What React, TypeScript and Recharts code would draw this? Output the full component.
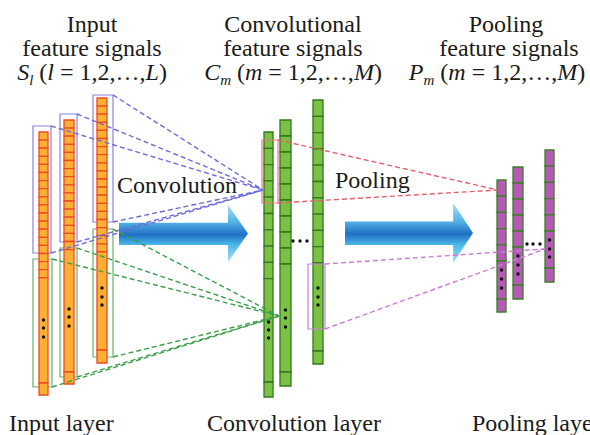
import React from "react";
import { ScatterChart, XAxis, YAxis, Scatter, ReferenceArea, ReferenceLine } from "recharts";

const W = 590;
const H = 435;
const SERIF = "Liberation Serif, Tinos, DejaVu Serif, Noto Serif, serif";

// feature columns, in diagram units (same as px): edges, top, cell height,
// number of small cells, end of the long cell, bottom, rows of the vertical dots
const inputColumns = [
  { x1: 39, x2: 48, top: 132, cell: 8.1, cells: 18, gapEnd: 383, bottom: 395, dots: [320, 328, 337] },
  { x1: 64, x2: 74, top: 120, cell: 8.1, cells: 16, gapEnd: 372, bottom: 384, dots: [309, 317, 326] },
  { x1: 97, x2: 107, top: 98, cell: 8.1, cells: 19, gapEnd: 350, bottom: 363, dots: [288, 297, 305] },
];
const convColumns = [
  { x1: 264, x2: 273, top: 132, cell: 16.3, cells: 9, gapEnd: 382, bottom: 397, dots: [322, 330, 338] },
  { x1: 280, x2: 291, top: 120, cell: 16, cells: 9, gapEnd: 372, bottom: 386, dots: [310, 318, 327] },
  { x1: 313, x2: 323, top: 100, cell: 16.3, cells: 10, gapEnd: 351, bottom: 364, dots: [288, 297, 305] },
];
const poolColumns = [
  { x1: 497, x2: 506, top: 180, cell: 16.2, cells: 5, gapEnd: 299, bottom: 312, dots: [270, 279, 288] },
  { x1: 513, x2: 523, top: 167, cell: 16, cells: 5, gapEnd: 285, bottom: 299, dots: [256, 265, 274] },
  { x1: 545, x2: 554, top: 150, cell: 16.2, cells: 5, gapEnd: 268, bottom: 282, dots: [240, 249, 257] },
];

// receptive field boxes
const blueBoxes = [
  { x1: 33, x2: 51, y1: 126, y2: 253 },
  { x1: 60, x2: 77, y1: 114, y2: 242 },
  { x1: 93, x2: 113, y1: 95, y2: 222 },
];
const greenBoxes = [
  { x1: 33, x2: 52, y1: 259, y2: 387 },
  { x1: 60, x2: 77, y1: 248, y2: 377 },
  { x1: 93, x2: 113, y1: 229, y2: 357 },
];
const redBoxes = [{ x1: 262, x2: 278, y1: 140, y2: 203 }];
const pinkBoxes = [{ x1: 308, x2: 325, y1: 264, y2: 329 }];

// where the dashed links meet
const blueTarget = { x: 263, y: 190 };
const greenTarget = { x: 279, y: 316 };
const redTarget = { x: 498, y: 190 };
const pinkTarget = { x: 545, y: 249 };

// "..." between columns
const ellipsisDots = [
  { x: 293, y: 241 }, { x: 300, y: 241 }, { x: 307, y: 241 },
  { x: 527, y: 244 }, { x: 533, y: 244 }, { x: 540, y: 244 },
];

const arrows = [
  { x1: 119, x2: 248, y1: 205, y2: 262 },
  { x1: 345, x2: 473, y1: 203, y2: 263 },
];

type Col = (typeof inputColumns)[number];
type Box = (typeof blueBoxes)[number];

const segments = (c: Col) => {
  const out: [number, number][] = [];
  for (let i = 0; i < c.cells; i++) out.push([c.top + i * c.cell, c.top + (i + 1) * c.cell]);
  out.push([c.top + c.cells * c.cell, c.gapEnd]);
  out.push([c.gapEnd, c.bottom]);
  return out;
};

const dotPoints = [
  ...[...inputColumns, ...convColumns, ...poolColumns].flatMap((c) =>
    c.dots.map((y) => ({ x: (c.x1 + c.x2) / 2, y }))
  ),
  ...ellipsisDots,
];

const ArrowShape = (p: any) => {
  const { x, y, width, height, gid } = p;
  const head = width * 0.155;
  const bt = y + height * 0.31;
  const bb = y + height * 0.7;
  const nx = x + width - head;
  const pts = [
    [x, bt], [nx, bt], [nx, y], [x + width, y + height / 2], [nx, y + height], [nx, bb], [x, bb],
  ].map((q) => q.join(",")).join(" ");
  return (
    <g>
      <defs>
        <linearGradient id={gid} x1="0" y1="0" x2="0" y2="1">
          <stop offset="0%" stopColor="#a6e1f6" />
          <stop offset="31%" stopColor="#52b0e5" />
          <stop offset="52%" stopColor="#1f70c4" />
          <stop offset="70%" stopColor="#4cb8ea" />
          <stop offset="100%" stopColor="#a4e0f6" />
        </linearGradient>
      </defs>
      <polygon points={pts} fill={`url(#${gid})`} />
    </g>
  );
};

const renderColumns = (cols: Col[], fill: string, stroke: string, prefix: string) =>
  cols.flatMap((c, ci) =>
    segments(c).map(([a, b], si) => (
      <ReferenceArea
        key={`${prefix}-${ci}-${si}`}
        x1={c.x1}
        x2={c.x2}
        y1={a}
        y2={b}
        fill={fill}
        fillOpacity={1}
        stroke={stroke}
        strokeWidth={1.3}
      />
    ))
  );

const renderBoxes = (boxes: Box[], stroke: string, prefix: string) =>
  boxes.map((b, i) => (
    <ReferenceArea
      key={`${prefix}-${i}`}
      x1={b.x1}
      x2={b.x2}
      y1={b.y1}
      y2={b.y2}
      fill="none"
      fillOpacity={0}
      stroke={stroke}
      strokeWidth={1.2}
    />
  ));

const renderLinks = (boxes: Box[], target: { x: number; y: number }, stroke: string, prefix: string) =>
  boxes.flatMap((b, i) =>
    [b.y1, b.y2].map((yy, k) => (
      <ReferenceLine
        key={`${prefix}-${i}-${k}`}
        segment={[{ x: b.x2, y: yy }, { x: target.x, y: target.y }]}
        stroke={stroke}
        strokeWidth={1.4}
        strokeDasharray="5 3"
      />
    ))
  );

const txt: React.CSSProperties = { fontFamily: SERIF, fontSize: 24, fill: "#1a1a1a" };
const mid: React.CSSProperties = { ...txt, textAnchor: "middle" };
const subStyle: React.CSSProperties = { fontSize: 15, fontStyle: "italic" };
const it: React.CSSProperties = { fontStyle: "italic" };

const Overlay = () => (
  <svg width={W} height={H} fontFamily={SERIF} style={{ position: "absolute", left: 0, top: 0, pointerEvents: "none", fontFamily: SERIF }}>
    <text x={92} y={32} style={mid}>Input</text>
    <text x={92} y={56} style={mid}>feature signals</text>
    <text x={92} y={80} style={mid}>
      <tspan style={it}>S</tspan>
      <tspan style={subStyle} dy={5}>l</tspan>
      <tspan dy={-5}> (</tspan>
      <tspan style={it}>l</tspan> = 1,2,…,<tspan style={it}>L</tspan>)
    </text>
    <text x={293} y={32} style={mid}>Convolutional</text>
    <text x={293} y={56} style={mid}>feature signals</text>
    <text x={293} y={80} style={mid}>
      <tspan style={it}>C</tspan>
      <tspan style={subStyle} dy={5}>m</tspan>
      <tspan dy={-5}> (</tspan>
      <tspan style={it}>m</tspan> = 1,2,…,<tspan style={it}>M</tspan>)
    </text>
    <text x={506} y={32} style={mid}>Pooling</text>
    <text x={509} y={56} style={mid}>feature signals</text>
    <text x={497} y={80} style={mid}>
      <tspan style={it}>P</tspan>
      <tspan style={subStyle} dy={5}>m</tspan>
      <tspan dy={-5}> (</tspan>
      <tspan style={it}>m</tspan> = 1,2,…,<tspan style={it}>M</tspan>)
    </text>
    <text x={117} y={193} style={txt}>Convolution</text>
    <text x={335} y={188} style={txt}>Pooling</text>
    <text x={9} y={431} style={txt}>Input layer</text>
    <text x={207} y={431} style={txt}>Convolution layer</text>
    <text x={472} y={431} style={txt}>Pooling layer</text>
  </svg>
);

export default function App() {
  return (
    <div style={{ position: "absolute", left: 0, top: 0, width: W, height: H, background: "#fff", overflow: "hidden" }}>
      <ScatterChart width={W} height={H} margin={{ top: 0, right: 0, bottom: 0, left: 0 }}>
        <XAxis type="number" dataKey="x" domain={[0, W]} hide allowDataOverflow />
        <YAxis type="number" dataKey="y" domain={[0, H]} reversed hide allowDataOverflow />
        {arrows.map((a, i) => (
          <ReferenceArea
            key={`arrow-${i}`}
            x1={a.x1}
            x2={a.x2}
            y1={a.y1}
            y2={a.y2}
            shape={(p: any) => <ArrowShape {...p} gid={`arrowGrad${i}`} />}
          />
        ))}
        {renderBoxes(blueBoxes, "#8585e0", "bb")}
        {renderBoxes(greenBoxes, "#66b36a", "gb")}
        {renderColumns(inputColumns, "#fbb034", "#ee4b22", "in")}
        {renderColumns(convColumns, "#7cc143", "#2f7a1f", "cv")}
        {renderColumns(poolColumns, "#b45cb4", "#3b7f25", "pl")}
        {renderBoxes(redBoxes, "#e87884", "rb")}
        {renderBoxes(pinkBoxes, "#d07ed6", "pb")}
        {renderLinks(blueBoxes, blueTarget, "#6b6bd6", "bl")}
        {renderLinks(greenBoxes, greenTarget, "#3d9e4a", "gl")}
        {renderLinks(redBoxes, redTarget, "#e0606c", "rl")}
        {renderLinks(pinkBoxes, pinkTarget, "#d07ad8", "pl")}
        <Scatter
          data={dotPoints}
          isAnimationActive={false}
          shape={(p: any) => <circle cx={p.cx} cy={p.cy} r={1.7} fill="#111" />}
        />
      </ScatterChart>
      <Overlay />
    </div>
  );
}
